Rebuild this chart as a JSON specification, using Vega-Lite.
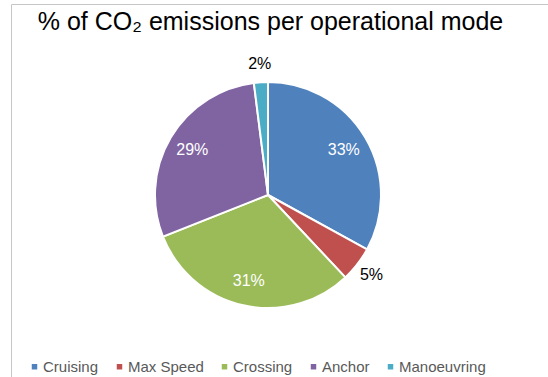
{
  "$schema": "https://vega.github.io/schema/vega-lite/v6.json",
  "width": 539,
  "height": 375,
  "autosize": {"type": "none"},
  "padding": {"left": 11, "top": 4, "right": -2, "bottom": -2},
  "background": "white",
  "view": {"stroke": "#c6c6c6", "strokeWidth": 1},
  "config": {
    "view": {"stroke": "#c6c6c6", "strokeWidth": 1},
    "font": "Liberation Sans"
  },
  "title": {
    "text": "% of CO₂ emissions per operational mode",
    "fontSize": 25,
    "fontWeight": "normal",
    "color": "#000000",
    "anchor": "middle",
    "frame": "group",
    "dx": -10,
    "offset": -31
  },
  "data": {
    "values": [
      {"seq": 1, "mode": "Cruising", "share": 0.33},
      {"seq": 2, "mode": "Max Speed", "share": 0.05},
      {"seq": 3, "mode": "Crossing", "share": 0.31},
      {"seq": 4, "mode": "Anchor", "share": 0.29},
      {"seq": 5, "mode": "Manoeuvring", "share": 0.02}
    ]
  },
  "encoding": {
    "theta": {"field": "share", "type": "quantitative", "stack": true},
    "order": {"field": "seq", "type": "quantitative"}
  },
  "layer": [
    {
      "mark": {"type": "arc", "radius": 113, "stroke": "white", "strokeWidth": 2, "x": 257, "y": 191},
      "encoding": {
        "color": {
          "field": "mode",
          "type": "nominal",
          "scale": {
            "domain": ["Cruising", "Max Speed", "Crossing", "Anchor", "Manoeuvring"],
            "range": ["#4F81BD", "#C0504D", "#9BBB59", "#8064A2", "#4BACC6"]
          },
          "legend": {
            "title": null,
            "orient": "none",
            "legendX": 16,
            "legendY": 355,
            "direction": "horizontal",
            "symbolType": "square",
            "symbolSize": 30,
            "symbolStrokeWidth": 0,
            "labelFontSize": 15,
            "labelColor": "#595959",
            "labelOffset": 1,
            "columnPadding": 13
          }
        }
      }
    },
    {
      "mark": {"type": "text", "radius": 88, "x": 257, "y": 191, "fontSize": 16, "fill": "white"},
      "encoding": {
        "text": {
          "condition": {"test": "datum.share >= 0.1", "field": "share", "format": ".0%"},
          "value": ""
        }
      }
    },
    {
      "mark": {"type": "text", "radius": 131, "x": 257, "y": 191, "fontSize": 16, "fill": "black"},
      "encoding": {
        "text": {
          "condition": {"test": "datum.share < 0.1", "field": "share", "format": ".0%"},
          "value": ""
        }
      }
    }
  ]
}
